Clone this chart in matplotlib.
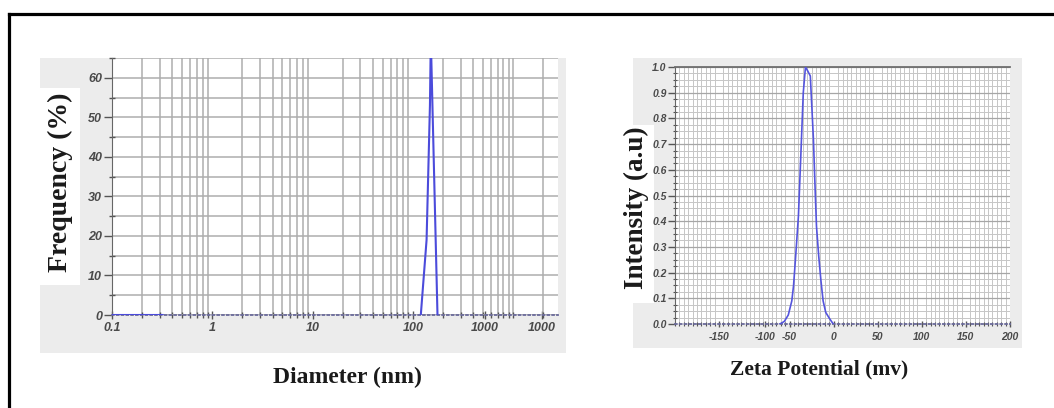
import numpy as np
import matplotlib
matplotlib.use("Agg")
import matplotlib.pyplot as plt
from matplotlib.patches import Rectangle
from matplotlib.lines import Line2D
from matplotlib.ticker import FixedLocator, LogLocator, MultipleLocator, NullFormatter

# size distribution (left panel)
size_nm = [0.1, 0.2, 0.32, 1.0, 120, 137, 148, 151, 176]
frequency = [0, 0, 0, np.nan, 0, 19, 53, 70, 0]
size_ticks = [0.1, 1, 10, 100, 520, 1950]
size_labels = ["0.1", "1", "10", "100", "1000", "1000"]
freq_ticks = [0, 10, 20, 30, 40, 50, 60]

# zeta potential distribution (right panel)
zeta_mv = [-61, -56, -51.5, -47.5, -45.5, -43, -40, -37, -34.5, -32, -29.5,
           -26.5, -23, -21, -19.5, -17, -14.5, -12, -9, -4.5, -0.5]
intensity = [0, 0.01, 0.035, 0.09, 0.15, 0.27, 0.42, 0.68, 0.9, 1.0, 0.985,
             0.965, 0.72, 0.52, 0.38, 0.265, 0.17, 0.09, 0.045, 0.02, 0]
zeta_ticks = [-130, -78, -50, 0, 50, 100, 150, 200]
zeta_labels = ["-150", "-100", "-50", "0", "50", "100", "150", "200"]
int_ticks = [0.0, 0.1, 0.2, 0.3, 0.4, 0.5, 0.6, 0.7, 0.8, 0.9, 1.0]

W, H = 1054, 408


def fx(px):
    return px / W


def fy(py):
    return 1 - py / H


def box(fig, x0, y0, x1, y1, color, z):
    fig.add_artist(Rectangle((fx(x0), fy(y1)), fx(x1) - fx(x0), fy(y0) - fy(y1),
                             transform=fig.transFigure, facecolor=color,
                             edgecolor="none", zorder=z))


def style_ticks(ax, size):
    for lab in ax.get_xticklabels() + ax.get_yticklabels():
        lab.set_fontfamily("Liberation Sans")
        lab.set_fontweight("bold")
        lab.set_fontstyle("italic")
        lab.set_fontsize(size)
        lab.set_color("#4a4a4a")


fig = plt.figure(figsize=(W / 100, H / 100), dpi=100)

# outer frame
fig.add_artist(Line2D([fx(8.5), fx(8.5)], [fy(14), 0], color="black", lw=2.3,
                      transform=fig.transFigure))
fig.add_artist(Line2D([fx(8.5), 1], [fy(14), fy(14)], color="black", lw=2.3,
                      transform=fig.transFigure, solid_capstyle="projecting"))

# grey panels and white label boxes
box(fig, 40, 58, 566, 353, "#ececec", -2)
box(fig, 40, 88, 80, 285, "white", -1)
box(fig, 633, 58, 1022, 348, "#ececec", -2)
box(fig, 620, 125, 654, 303, "white", -1)

# ---- left: size distribution
ax1 = fig.add_axes([fx(112), fy(315), fx(558) - fx(112), fy(58) - fy(315)])
ax1.set_facecolor("white")
ax1.set_xscale("log")
ax1.set_xlim(0.1, 2800)
ax1.set_ylim(0, 65)
ax1.plot(size_nm, frequency, color="#4b4bdb", lw=1.5, zorder=3)

ax1.xaxis.set_major_locator(FixedLocator(size_ticks))
ax1.set_xticklabels(size_labels)
ax1.xaxis.set_minor_locator(LogLocator(base=10, subs=np.arange(1, 10), numticks=20))
ax1.xaxis.set_minor_formatter(NullFormatter())
ax1.yaxis.set_major_locator(FixedLocator(freq_ticks))
ax1.yaxis.set_minor_locator(MultipleLocator(5))

ax1.grid(which="minor", axis="x", color="#adadad", lw=1.1)
ax1.grid(which="both", axis="y", color="#adadad", lw=1.1)
ax1.set_axisbelow(True)

ax1.tick_params(axis="y", which="major", direction="out", length=6, width=1,
                color="#555555", pad=1)
ax1.tick_params(axis="y", which="minor", direction="inout", length=4, width=1,
                color="#555555")
ax1.tick_params(axis="x", which="major", direction="inout", length=6, width=1,
                color="#555555", pad=2)
ax1.tick_params(axis="x", which="minor", direction="inout", length=4, width=1,
                color="#555555")
style_ticks(ax1, 9)

for s in ["top", "right"]:
    ax1.spines[s].set_visible(False)
ax1.spines["left"].set_color("#666666")
ax1.spines["bottom"].set_color("#6a6a9a")
ax1.spines["bottom"].set_linestyle(":")
ax1.spines["bottom"].set_linewidth(1.3)

# ---- right: zeta potential
ax2 = fig.add_axes([fx(675), fy(324), fx(1010) - fx(675), fy(67) - fy(324)])
ax2.set_facecolor("white")
ax2.set_xlim(-180, 200)
ax2.set_ylim(0, 1.0)
ax2.plot(zeta_mv, intensity, color="#5555dd", lw=1.2, zorder=3)

ax2.xaxis.set_major_locator(FixedLocator(zeta_ticks))
ax2.set_xticklabels(zeta_labels)
ax2.xaxis.set_minor_locator(MultipleLocator(5))
ax2.yaxis.set_major_locator(FixedLocator(int_ticks))
ax2.set_yticklabels([f"{v:.1f}" for v in int_ticks])
ax2.yaxis.set_minor_locator(MultipleLocator(0.025))

ax2.grid(which="minor", axis="both", color="#c6c6c6", lw=0.7)
ax2.grid(which="major", axis="y", color="#a6a6a6", lw=0.9)
ax2.set_axisbelow(True)

ax2.tick_params(axis="y", which="major", direction="out", length=5, width=1,
                color="#555555", pad=1)
ax2.tick_params(axis="y", which="minor", direction="inout", length=2.5, width=0.8,
                color="#555555")
ax2.tick_params(axis="x", which="major", direction="inout", length=5, width=1,
                color="#555555", pad=3)
ax2.tick_params(axis="x", which="minor", direction="inout", length=3, width=0.8,
                color="#555555")
style_ticks(ax2, 7.5)

ax2.spines["right"].set_visible(False)
ax2.spines["top"].set_color("#6e6e6e")
ax2.spines["top"].set_linewidth(1.3)
ax2.spines["left"].set_color("#666666")
ax2.spines["bottom"].set_color("#6a6a9a")
ax2.spines["bottom"].set_linestyle(":")
ax2.spines["bottom"].set_linewidth(1.3)

# axis titles
serif = dict(family="Liberation Serif", weight="bold", color="#1a1a1a",
             ha="center", va="center")
fig.text(fx(60), fy(182), "Frequency (%)", rotation=90, size=20, **serif)
fig.text(fx(347), fy(377), "Diameter (nm)", size=17, **serif)
fig.text(fx(636), fy(208), "Intensity (a.u)", rotation=90, size=19.5, **serif)
fig.text(fx(819), fy(369), "Zeta Potential (mv)", size=15.5, **serif)

fig.savefig("out.png", dpi=100)
